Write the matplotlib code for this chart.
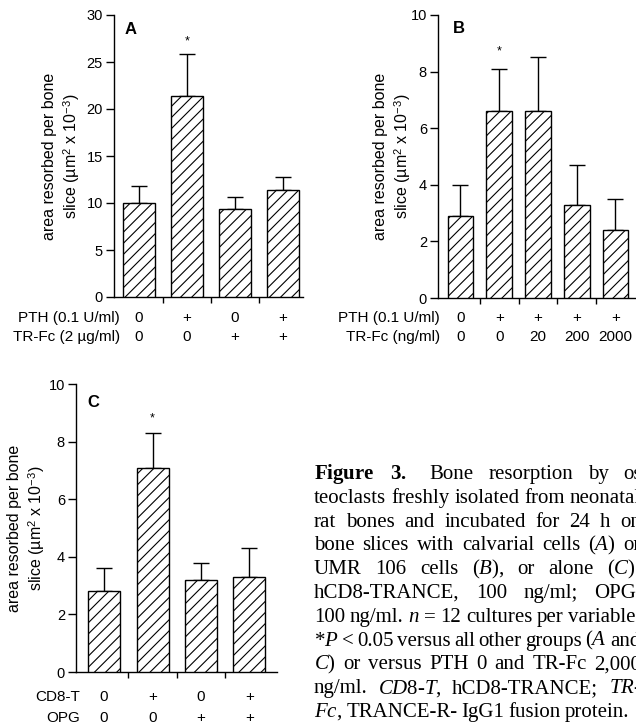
import numpy as np
import matplotlib
matplotlib.use("Agg")
import matplotlib.pyplot as plt
import matplotlib.transforms as mtransforms

plt.rcParams["font.family"] = ["Liberation Sans", "DejaVu Sans"]
plt.rcParams["mathtext.fontset"] = "custom"
plt.rcParams["mathtext.rm"] = "Liberation Serif"
plt.rcParams["mathtext.it"] = "Liberation Serif:italic"
plt.rcParams["mathtext.bf"] = "Liberation Serif:bold"
plt.rcParams["mathtext.sf"] = "Liberation Sans"
plt.rcParams["hatch.linewidth"] = 0.8

# panel A: calvarial cells
a_vals = [10.0, 21.4, 9.4, 11.4]
a_sem = [1.8, 4.4, 1.2, 1.4]
a_pth = ["0", "+", "0", "+"]
a_trfc = ["0", "0", "+", "+"]

# panel B: UMR 106 cells
b_vals = [2.9, 6.6, 6.6, 3.3, 2.4]
b_sem = [1.1, 1.5, 1.9, 1.4, 1.1]
b_pth = ["0", "+", "+", "+", "+"]
b_trfc = ["0", "0", "20", "200", "2000"]

# panel C: osteoclasts alone
c_vals = [2.8, 7.1, 3.2, 3.3]
c_sem = [0.8, 1.2, 0.6, 1.0]
c_cd8 = ["0", "+", "0", "+"]
c_opg = ["0", "0", "+", "+"]

ylab = "area resorbed per bone\nslice (µm$^{\\mathsf{2}}$ x 10$^{\\mathsf{-3}}$)"

caption = [
    r"$\mathbf{Figure}$ $\mathbf{3.}$ Bone resorption by os-",
    "teoclasts freshly isolated from neonatal",
    "rat bones and incubated for 24 h on",
    r"bone slices with calvarial cells ($\mathit{A}$) or",
    r"UMR 106 cells ($\mathit{B}$), or alone ($\mathit{C}$).",
    "hCD8-TRANCE, 100 ng/ml; OPG,",
    r"100 ng/ml. $\mathit{n}$ = 12 cultures per variable.",
    r"*$\mathit{P}$ < 0.05 versus all other groups ($\mathit{A}$ and",
    r"$\mathit{C}$) or versus PTH 0 and TR-Fc 2,000",
    r"ng/ml. $\mathit{CD8}$-$\mathit{T}$, hCD8-TRANCE; $\mathit{TR}$-",
    r"$\mathit{Fc}$, TRANCE-R- IgG1 fusion protein.",
]

W, H = 636, 728
fig = plt.figure(figsize=(W / 100, H / 100), dpi=100)


def panel(box, xlim, vals, sem, ymax, ystep, letter, star, rows, row_x, row_y, lab_x):
    l, t, r, b = box
    ax = fig.add_axes([l / W, 1 - b / H, (r - l) / W, (b - t) / H])
    x = np.arange(len(vals))
    ax.bar(x, vals, width=0.66, color="white", edgecolor="black",
           hatch="///", linewidth=1.0, zorder=3)
    ax.errorbar(x, vals, yerr=[np.zeros(len(vals)), sem], fmt="none",
                ecolor="black", elinewidth=1.0, capsize=6, capthick=1.0, zorder=2)
    ax.text(1, vals[1] + star, "*", ha="center", va="bottom", fontsize=9)
    ax.set_xlim(*xlim)
    ax.set_ylim(0, ymax)
    ax.set_yticks(np.arange(0, ymax + 0.01, ystep))
    ax.set_xticks(x[:-1] + 0.5)
    ax.tick_params(axis="x", length=4, width=1, labelbottom=False)
    ax.tick_params(axis="y", length=6, width=1, labelsize=10.5, pad=2)
    for s in ["top", "right"]:
        ax.spines[s].set_visible(False)
    for s in ["left", "bottom"]:
        ax.spines[s].set_linewidth(1.0)
    ax.text(letter[1], letter[2], letter[0], transform=ax.transAxes,
            fontsize=12, fontweight="bold", ha="left", va="center")
    tr = mtransforms.blended_transform_factory(ax.transData, fig.transFigure)
    for (name, labels), yp in zip(rows, row_y):
        fig.text(row_x / W, 1 - yp / H, name, ha="right", va="center", fontsize=11)
        for xi, lab in zip(x, labels):
            ax.text(xi, 1 - yp / H, lab, transform=tr, ha="center",
                    va="center", fontsize=11, clip_on=False)
    fig.text(lab_x / W, 1 - (t + b) / 2 / H, ylab, rotation=90, ha="center",
             va="center", multialignment="center", linespacing=1.3, fontsize=11.5)
    return ax


panel((114, 15, 303, 297), (-0.52, 3.42), a_vals, a_sem, 30, 5,
      ("A", 0.055, 0.947), 5.2,
      [("PTH (0.1 U/ml)", a_pth), ("TR-Fc (2 µg/ml)", a_trfc)],
      120, (318, 337), 62)

panel((438, 15, 636, 298), (-0.58, 4.53), b_vals, b_sem, 10, 2,
      ("B", 0.075, 0.954), 1.9,
      [("PTH (0.1 U/ml)", b_pth), ("TR-Fc (ng/ml)", b_trfc)],
      440, (318, 337), 393)

panel((76, 384, 277, 672), (-0.58, 3.57), c_vals, c_sem, 10, 2,
      ("C", 0.055, 0.937), 1.5,
      [("CD8-T", c_cd8), ("OPG", c_opg)],
      80, (697, 718), 27)

# justified caption column, running past the right edge like the scan
col_left, col_right = 314, 641
renderer = fig.canvas.get_renderer()
for i, line in enumerate(caption):
    y = 1 - (479 + i * 23.8) / H
    words = line.split()
    arts = [fig.text(0, y, w, ha="left", va="baseline", fontsize=15,
                     family="Liberation Serif") for w in words]
    widths = [a.get_window_extent(renderer).width for a in arts]
    if i == len(caption) - 1:
        gap = 4.0
    else:
        gap = (col_right - col_left - sum(widths)) / (len(words) - 1)
    xp = col_left
    for k, (a, wd) in enumerate(zip(arts, widths)):
        a.set_x(xp / W)
        xp += wd + gap
        if i == 0 and k == 1:
            xp += 8  # wider space after the figure number

fig.savefig("out.png", dpi=100)
